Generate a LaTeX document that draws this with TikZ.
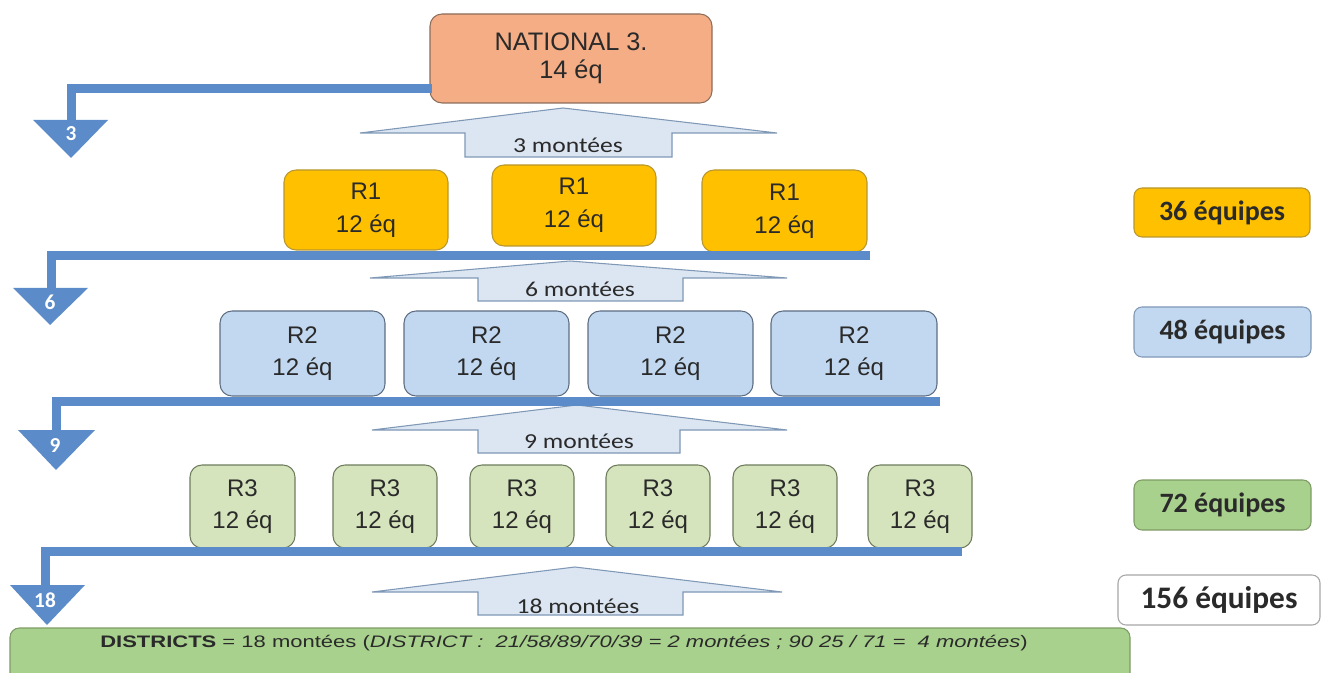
\documentclass[tikz,border=0pt]{standalone}
\usepackage{fontspec}
\usepackage{graphicx}
\setmainfont{Liberation Sans}
\newfontfamily\carlito{Carlito}
\usetikzlibrary{fit}
\definecolor{barblue}{HTML}{5B8BC9}
\definecolor{nfill}{HTML}{F4AD85}
\definecolor{nline}{HTML}{8C6E5A}
\definecolor{rone}{HTML}{FFC000}
\definecolor{roneline}{HTML}{B8962E}
\definecolor{rtwo}{HTML}{C2D8F0}
\definecolor{rtwoline}{HTML}{5E6E82}
\definecolor{rthree}{HTML}{D5E4BC}
\definecolor{rthreeline}{HTML}{6E7C5C}
\definecolor{dist}{HTML}{A9D18E}
\definecolor{distline}{HTML}{7E9C66}
\definecolor{upfill}{HTML}{DCE6F2}
\definecolor{upline}{HTML}{7F98B5}
\definecolor{txt}{HTML}{2A2A2A}
\tikzset{
  rbox/.style={draw, line width=0.8pt, rounded corners=9pt, inner sep=0pt},
  rtext/.style={align=center, text=txt, inner sep=0pt, font=\fontsize{18}{24.5}\selectfont},
  ntext/.style={align=center, text=txt, inner sep=0pt, font=\fontsize{19}{21}\selectfont},
  sumbox/.style={draw, line width=0.8pt, rounded corners=6pt, inner sep=0pt},
  sumtext/.style={text=txt, inner sep=0pt, font=\carlito\bfseries\fontsize{21}{24}\selectfont},
  bar/.style={draw=barblue, line width=6.75pt, line cap=butt, line join=miter},
  tri/.style={fill=barblue},
  trilabel/.style={text=white, font=\carlito\bfseries\fontsize{16}{17}\selectfont, inner sep=0pt},
  uparrow/.style={fill=upfill, draw=upline, line width=0.8pt, line join=miter},
  uplabel/.style={text=txt, inner sep=0pt, font=\carlito\fontsize{16}{18}\selectfont},
}
\begin{document}
\begin{tikzpicture}[x=0.75pt, y=-0.75pt]
\useasboundingbox (0,0) rectangle (1323,673);

% up arrows (drawn first)
\draw[uparrow] (360,133) -- (563,108) -- (777,133) -- (672,133) -- (672,157) -- (465,157) -- (465,133) -- cycle;
\node[uplabel] (u3) at (568,145) {\scalebox{1.2}[1]{3 montées}};
\draw[uparrow] (370,278) -- (570,261) -- (787,278) -- (683,278) -- (683,301) -- (478,301) -- (478,278) -- cycle;
\node[uplabel] (u6) at (580,289) {\scalebox{1.2}[1]{6 montées}};
\draw[uparrow] (372,430) -- (577,405) -- (787,430) -- (680,430) -- (680,453) -- (478,453) -- (478,430) -- cycle;
\node[uplabel] (u9) at (579,441) {\scalebox{1.2}[1]{9 montées}};
\draw[uparrow] (372,592) -- (575,567) -- (782,592) -- (683,592) -- (683,615) -- (478,615) -- (478,592) -- cycle;
\node[uplabel] (u18) at (578,606) {\scalebox{1.2}[1]{18 montées}};

% National 3
\node[rbox, fill=nfill, draw=nline, fit={(430,14) (712,103)}, label={[ntext]center:{NATIONAL 3.\\14 éq}}] (n3) {};

% R1
\node[rbox, fill=rone, draw=roneline, fit={(284,170) (448,250)}, label={[rtext]center:{R1\\12 éq}}] (r1a) {};
\node[rbox, fill=rone, draw=roneline, fit={(492,165) (656,246)}, label={[rtext]center:{R1\\12 éq}}] (r1b) {};
\node[rbox, fill=rone, draw=roneline, fit={(702,170) (867,252)}, label={[rtext]center:{R1\\12 éq}}] (r1c) {};

% R2
\node[rbox, fill=rtwo, draw=rtwoline, fit={(220,311) (385,396)}, label={[rtext]center:{R2\\12 éq}}] (r2a) {};
\node[rbox, fill=rtwo, draw=rtwoline, fit={(404,311) (569,396)}, label={[rtext]center:{R2\\12 éq}}] (r2b) {};
\node[rbox, fill=rtwo, draw=rtwoline, fit={(588,311) (753,396)}, label={[rtext]center:{R2\\12 éq}}] (r2c) {};
\node[rbox, fill=rtwo, draw=rtwoline, fit={(771,311) (937,396)}, label={[rtext]center:{R2\\12 éq}}] (r2d) {};

% R3
\node[rbox, fill=rthree, draw=rthreeline, fit={(190,465) (295,548)}, label={[rtext]center:{R3\\12 éq}}] (r3a) {};
\node[rbox, fill=rthree, draw=rthreeline, fit={(333,465) (437,548)}, label={[rtext]center:{R3\\12 éq}}] (r3b) {};
\node[rbox, fill=rthree, draw=rthreeline, fit={(470,465) (574,548)}, label={[rtext]center:{R3\\12 éq}}] (r3c) {};
\node[rbox, fill=rthree, draw=rthreeline, fit={(606,465) (710,548)}, label={[rtext]center:{R3\\12 éq}}] (r3d) {};
\node[rbox, fill=rthree, draw=rthreeline, fit={(733,465) (837,548)}, label={[rtext]center:{R3\\12 éq}}] (r3e) {};
\node[rbox, fill=rthree, draw=rthreeline, fit={(868,465) (972,548)}, label={[rtext]center:{R3\\12 éq}}] (r3f) {};

% districts
\node[draw=distline, fill=dist, line width=0.8pt, rounded corners=7pt, inner sep=0pt, fit={(10,628) (1130,700)}] (dist) {};
\node[inner sep=0pt, text=txt, font=\fontsize{12.5}{14}\selectfont, anchor=west] (disttext) at (100,643)
  {\scalebox{1.32}[1]{\textbf{DISTRICTS} = 18 montées (\textit{DISTRICT :~~21/58/89/70/39 = 2 montées ; 90 25 / 71 =~~4 montées})}};

% summary boxes
\node[sumbox, fill=rone, draw=roneline, fit={(1134,188) (1310,237)}, label={[sumtext]center:36 équipes}] (s36) {};
\node[sumbox, fill=rtwo, draw=upline, fit={(1134,307) (1311,357)}, label={[sumtext]center:48 équipes}] (s48) {};
\node[sumbox, fill=dist, draw=distline, fit={(1134,480) (1311,530)}, label={[sumtext]center:72 équipes}] (s72) {};
\node[sumbox, fill=white, draw=gray!70, fit={(1118,575) (1320,625)}, label={[sumtext, font=\carlito\bfseries\fontsize{23.5}{26}\selectfont]center:156 équipes}] (s156) {};

% descent triangles
\coordinate (t3) at (71,120);
\fill[tri] (33,120) -- (108,120) -- (71,158) -- cycle;
\node[trilabel] (l3) at (71,134) {3};
\coordinate (t6) at (51,288);
\fill[tri] (13,288) -- (88,288) -- (50,325) -- cycle;
\node[trilabel] (l6) at (50,302) {6};
\coordinate (t9) at (56,430);
\fill[tri] (18,430) -- (95,430) -- (56,470) -- cycle;
\node[trilabel] (l9) at (55,446) {9};
\coordinate (t18) at (45,585);
\fill[tri] (10,585) -- (85,585) -- (47,625) -- cycle;
\node[trilabel] (l18) at (45,600) {18};

% bars
\coordinate (b3) at (432,88.5);
\coordinate (b6) at (870,255.5);
\coordinate (b9) at (940,401);
\coordinate (b18) at (962,551.5);
\draw[bar] (b3) -| (t3);
\draw[bar] (b6) -| (t6);
\draw[bar] (b9) -| (t9);
\draw[bar] (b18) -| (t18);
\end{tikzpicture}
\end{document}
